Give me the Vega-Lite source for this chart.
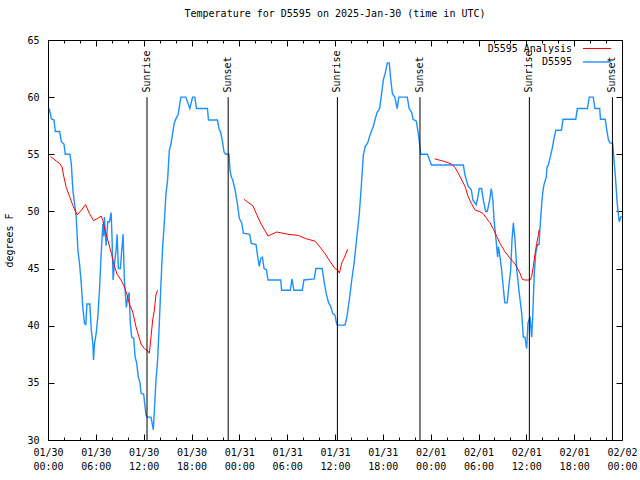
{
  "$schema": "https://vega.github.io/schema/vega-lite/v6.json",
  "width": 574,
  "height": 400,
  "autosize": {"type": "none"},
  "padding": {"left": 48, "top": 40, "right": 18, "bottom": 40},
  "background": "white",
  "config": {
    "view": {"stroke": null},
    "font": "DejaVu Sans Mono",
    "axis": {"labelFont": "DejaVu Sans Mono", "labelFontSize": 10, "labelColor": "black", "titleFont": "DejaVu Sans Mono", "titleFontSize": 10, "titleFontWeight": "normal", "titleColor": "black", "domainColor": "black", "tickColor": "black", "grid": false},
    "legend": {"labelFont": "DejaVu Sans Mono", "labelFontSize": 10, "labelColor": "black"}
  },
  "title": {"text": "Temperature for D5595 on 2025-Jan-30 (time in UTC)", "font": "DejaVu Sans Mono", "fontSize": 10, "fontWeight": "normal", "color": "black", "anchor": "middle", "offset": 16},
  "resolve": {"axis": {"x": "independent", "y": "independent"}},
  "datasets": {
    "temps": [
      {"series": "D5595", "seg": "b", "hour": 0.17, "temp": 59.0},
      {"series": "D5595", "seg": "b", "hour": 0.42, "temp": 58.1},
      {"series": "D5595", "seg": "b", "hour": 0.75, "temp": 58.0},
      {"series": "D5595", "seg": "b", "hour": 0.92, "temp": 57.0},
      {"series": "D5595", "seg": "b", "hour": 1.46, "temp": 57.0},
      {"series": "D5595", "seg": "b", "hour": 1.67, "temp": 56.1},
      {"series": "D5595", "seg": "b", "hour": 2.0, "temp": 55.9},
      {"series": "D5595", "seg": "b", "hour": 2.17, "temp": 55.0},
      {"series": "D5595", "seg": "b", "hour": 2.75, "temp": 55.0},
      {"series": "D5595", "seg": "b", "hour": 2.92, "temp": 54.2},
      {"series": "D5595", "seg": "b", "hour": 3.13, "temp": 51.8},
      {"series": "D5595", "seg": "b", "hour": 3.33, "temp": 50.7},
      {"series": "D5595", "seg": "b", "hour": 3.54, "temp": 49.5},
      {"series": "D5595", "seg": "b", "hour": 3.75, "temp": 46.6},
      {"series": "D5595", "seg": "b", "hour": 3.96, "temp": 45.4},
      {"series": "D5595", "seg": "b", "hour": 4.17, "temp": 43.7},
      {"series": "D5595", "seg": "b", "hour": 4.38, "temp": 41.5},
      {"series": "D5595", "seg": "b", "hour": 4.58, "temp": 40.2},
      {"series": "D5595", "seg": "b", "hour": 4.75, "temp": 40.1},
      {"series": "D5595", "seg": "b", "hour": 4.88, "temp": 41.9},
      {"series": "D5595", "seg": "b", "hour": 5.25, "temp": 41.9},
      {"series": "D5595", "seg": "b", "hour": 5.42, "temp": 39.7},
      {"series": "D5595", "seg": "b", "hour": 5.63, "temp": 38.4},
      {"series": "D5595", "seg": "b", "hour": 5.71, "temp": 37.0},
      {"series": "D5595", "seg": "b", "hour": 5.83, "temp": 38.4},
      {"series": "D5595", "seg": "b", "hour": 6.04, "temp": 39.3},
      {"series": "D5595", "seg": "b", "hour": 6.25, "temp": 40.8},
      {"series": "D5595", "seg": "b", "hour": 6.46, "temp": 43.1},
      {"series": "D5595", "seg": "b", "hour": 6.67, "temp": 46.3},
      {"series": "D5595", "seg": "b", "hour": 6.88, "temp": 48.9},
      {"series": "D5595", "seg": "b", "hour": 7.0, "temp": 47.8},
      {"series": "D5595", "seg": "b", "hour": 7.08, "temp": 49.5},
      {"series": "D5595", "seg": "b", "hour": 7.29, "temp": 47.0},
      {"series": "D5595", "seg": "b", "hour": 7.5, "temp": 49.1},
      {"series": "D5595", "seg": "b", "hour": 7.71, "temp": 49.1},
      {"series": "D5595", "seg": "b", "hour": 7.92, "temp": 49.9},
      {"series": "D5595", "seg": "b", "hour": 8.04, "temp": 47.5},
      {"series": "D5595", "seg": "b", "hour": 8.17, "temp": 44.0},
      {"series": "D5595", "seg": "b", "hour": 8.33, "temp": 45.4},
      {"series": "D5595", "seg": "b", "hour": 8.54, "temp": 46.6},
      {"series": "D5595", "seg": "b", "hour": 8.67, "temp": 48.0},
      {"series": "D5595", "seg": "b", "hour": 8.83, "temp": 45.0},
      {"series": "D5595", "seg": "b", "hour": 9.08, "temp": 45.0},
      {"series": "D5595", "seg": "b", "hour": 9.25, "temp": 46.6},
      {"series": "D5595", "seg": "b", "hour": 9.42, "temp": 48.0},
      {"series": "D5595", "seg": "b", "hour": 9.58, "temp": 44.0},
      {"series": "D5595", "seg": "b", "hour": 9.83, "temp": 41.6},
      {"series": "D5595", "seg": "b", "hour": 10.0, "temp": 42.5},
      {"series": "D5595", "seg": "b", "hour": 10.17, "temp": 42.9},
      {"series": "D5595", "seg": "b", "hour": 10.33, "temp": 40.2},
      {"series": "D5595", "seg": "b", "hour": 10.5, "temp": 39.0},
      {"series": "D5595", "seg": "b", "hour": 10.75, "temp": 38.9},
      {"series": "D5595", "seg": "b", "hour": 10.92, "temp": 37.3},
      {"series": "D5595", "seg": "b", "hour": 11.13, "temp": 36.7},
      {"series": "D5595", "seg": "b", "hour": 11.33, "temp": 35.5},
      {"series": "D5595", "seg": "b", "hour": 11.54, "temp": 35.0},
      {"series": "D5595", "seg": "b", "hour": 11.67, "temp": 34.1},
      {"series": "D5595", "seg": "b", "hour": 12.0, "temp": 34.0},
      {"series": "D5595", "seg": "b", "hour": 12.29, "temp": 32.2},
      {"series": "D5595", "seg": "b", "hour": 12.42, "temp": 32.0},
      {"series": "D5595", "seg": "b", "hour": 12.92, "temp": 32.0},
      {"series": "D5595", "seg": "b", "hour": 13.08, "temp": 31.4},
      {"series": "D5595", "seg": "b", "hour": 13.21, "temp": 30.9},
      {"series": "D5595", "seg": "b", "hour": 13.33, "temp": 32.4},
      {"series": "D5595", "seg": "b", "hour": 13.54, "temp": 35.2},
      {"series": "D5595", "seg": "b", "hour": 13.75, "temp": 37.0},
      {"series": "D5595", "seg": "b", "hour": 13.96, "temp": 40.2},
      {"series": "D5595", "seg": "b", "hour": 14.17, "temp": 43.7},
      {"series": "D5595", "seg": "b", "hour": 14.38, "temp": 46.9},
      {"series": "D5595", "seg": "b", "hour": 14.58, "temp": 48.9},
      {"series": "D5595", "seg": "b", "hour": 14.79, "temp": 51.5},
      {"series": "D5595", "seg": "b", "hour": 15.0, "temp": 52.7},
      {"series": "D5595", "seg": "b", "hour": 15.21, "temp": 55.3},
      {"series": "D5595", "seg": "b", "hour": 15.42, "temp": 55.9},
      {"series": "D5595", "seg": "b", "hour": 15.63, "temp": 56.8},
      {"series": "D5595", "seg": "b", "hour": 15.83, "temp": 57.7},
      {"series": "D5595", "seg": "b", "hour": 16.04, "temp": 58.1},
      {"series": "D5595", "seg": "b", "hour": 16.33, "temp": 58.5},
      {"series": "D5595", "seg": "b", "hour": 16.46, "temp": 59.1},
      {"series": "D5595", "seg": "b", "hour": 16.67, "temp": 60.0},
      {"series": "D5595", "seg": "b", "hour": 17.29, "temp": 60.0},
      {"series": "D5595", "seg": "b", "hour": 17.5, "temp": 59.6},
      {"series": "D5595", "seg": "b", "hour": 17.79, "temp": 59.0},
      {"series": "D5595", "seg": "b", "hour": 18.0, "temp": 59.6},
      {"series": "D5595", "seg": "b", "hour": 18.13, "temp": 60.0},
      {"series": "D5595", "seg": "b", "hour": 18.42, "temp": 60.0},
      {"series": "D5595", "seg": "b", "hour": 18.63, "temp": 59.0},
      {"series": "D5595", "seg": "b", "hour": 20.0, "temp": 59.0},
      {"series": "D5595", "seg": "b", "hour": 20.13, "temp": 58.0},
      {"series": "D5595", "seg": "b", "hour": 21.25, "temp": 58.0},
      {"series": "D5595", "seg": "b", "hour": 21.46, "temp": 57.2},
      {"series": "D5595", "seg": "b", "hour": 21.67, "temp": 56.9},
      {"series": "D5595", "seg": "b", "hour": 21.88, "temp": 56.1},
      {"series": "D5595", "seg": "b", "hour": 22.08, "temp": 55.2},
      {"series": "D5595", "seg": "b", "hour": 22.29, "temp": 55.0},
      {"series": "D5595", "seg": "b", "hour": 22.71, "temp": 55.0},
      {"series": "D5595", "seg": "b", "hour": 22.83, "temp": 53.6},
      {"series": "D5595", "seg": "b", "hour": 23.0, "temp": 53.0},
      {"series": "D5595", "seg": "b", "hour": 23.17, "temp": 52.75},
      {"series": "D5595", "seg": "b", "hour": 23.46, "temp": 51.9},
      {"series": "D5595", "seg": "b", "hour": 23.75, "temp": 50.7},
      {"series": "D5595", "seg": "b", "hour": 24.0, "temp": 49.4},
      {"series": "D5595", "seg": "b", "hour": 24.3, "temp": 49.0},
      {"series": "D5595", "seg": "b", "hour": 24.5, "temp": 48.1},
      {"series": "D5595", "seg": "b", "hour": 25.3, "temp": 48.0},
      {"series": "D5595", "seg": "b", "hour": 25.5, "temp": 47.2},
      {"series": "D5595", "seg": "b", "hour": 26.1, "temp": 47.1},
      {"series": "D5595", "seg": "b", "hour": 26.25, "temp": 46.3},
      {"series": "D5595", "seg": "b", "hour": 26.5, "temp": 45.2},
      {"series": "D5595", "seg": "b", "hour": 26.7, "temp": 45.9},
      {"series": "D5595", "seg": "b", "hour": 26.9, "temp": 46.0},
      {"series": "D5595", "seg": "b", "hour": 27.1, "temp": 45.0},
      {"series": "D5595", "seg": "b", "hour": 27.4, "temp": 44.9},
      {"series": "D5595", "seg": "b", "hour": 27.6, "temp": 44.0},
      {"series": "D5595", "seg": "b", "hour": 29.2, "temp": 44.0},
      {"series": "D5595", "seg": "b", "hour": 29.3, "temp": 43.1},
      {"series": "D5595", "seg": "b", "hour": 30.4, "temp": 43.1},
      {"series": "D5595", "seg": "b", "hour": 30.6, "temp": 44.1},
      {"series": "D5595", "seg": "b", "hour": 30.85, "temp": 43.1},
      {"series": "D5595", "seg": "b", "hour": 31.9, "temp": 43.1},
      {"series": "D5595", "seg": "b", "hour": 32.1, "temp": 44.0},
      {"series": "D5595", "seg": "b", "hour": 33.4, "temp": 44.1},
      {"series": "D5595", "seg": "b", "hour": 33.6, "temp": 45.0},
      {"series": "D5595", "seg": "b", "hour": 34.4, "temp": 45.0},
      {"series": "D5595", "seg": "b", "hour": 34.6, "temp": 44.0},
      {"series": "D5595", "seg": "b", "hour": 34.9, "temp": 42.8},
      {"series": "D5595", "seg": "b", "hour": 35.2, "temp": 42.0},
      {"series": "D5595", "seg": "b", "hour": 35.45, "temp": 41.7},
      {"series": "D5595", "seg": "b", "hour": 35.7, "temp": 41.1},
      {"series": "D5595", "seg": "b", "hour": 36.0, "temp": 40.9},
      {"series": "D5595", "seg": "b", "hour": 36.2, "temp": 40.2},
      {"series": "D5595", "seg": "b", "hour": 36.3, "temp": 40.05},
      {"series": "D5595", "seg": "b", "hour": 37.25, "temp": 40.05},
      {"series": "D5595", "seg": "b", "hour": 37.5, "temp": 40.8},
      {"series": "D5595", "seg": "b", "hour": 37.8, "temp": 42.3},
      {"series": "D5595", "seg": "b", "hour": 38.1, "temp": 44.0},
      {"series": "D5595", "seg": "b", "hour": 38.4, "temp": 45.5},
      {"series": "D5595", "seg": "b", "hour": 38.7, "temp": 47.5},
      {"series": "D5595", "seg": "b", "hour": 39.05, "temp": 49.8},
      {"series": "D5595", "seg": "b", "hour": 39.3, "temp": 52.2},
      {"series": "D5595", "seg": "b", "hour": 39.55, "temp": 54.9},
      {"series": "D5595", "seg": "b", "hour": 39.8, "temp": 55.7},
      {"series": "D5595", "seg": "b", "hour": 40.1, "temp": 56.0},
      {"series": "D5595", "seg": "b", "hour": 40.4, "temp": 56.7},
      {"series": "D5595", "seg": "b", "hour": 40.6, "temp": 57.1},
      {"series": "D5595", "seg": "b", "hour": 40.8, "temp": 57.4},
      {"series": "D5595", "seg": "b", "hour": 41.0, "temp": 58.0},
      {"series": "D5595", "seg": "b", "hour": 41.3, "temp": 58.7},
      {"series": "D5595", "seg": "b", "hour": 41.6, "temp": 59.0},
      {"series": "D5595", "seg": "b", "hour": 41.85, "temp": 60.3},
      {"series": "D5595", "seg": "b", "hour": 42.06, "temp": 61.5},
      {"series": "D5595", "seg": "b", "hour": 42.3, "temp": 62.1},
      {"series": "D5595", "seg": "b", "hour": 42.56, "temp": 63.0},
      {"series": "D5595", "seg": "b", "hour": 42.8, "temp": 63.0},
      {"series": "D5595", "seg": "b", "hour": 43.0, "temp": 61.5},
      {"series": "D5595", "seg": "b", "hour": 43.2, "temp": 60.3},
      {"series": "D5595", "seg": "b", "hour": 43.5, "temp": 60.0},
      {"series": "D5595", "seg": "b", "hour": 43.8, "temp": 59.0},
      {"series": "D5595", "seg": "b", "hour": 44.0, "temp": 60.0},
      {"series": "D5595", "seg": "b", "hour": 45.07, "temp": 60.0},
      {"series": "D5595", "seg": "b", "hour": 45.3, "temp": 59.0},
      {"series": "D5595", "seg": "b", "hour": 45.6, "temp": 58.7},
      {"series": "D5595", "seg": "b", "hour": 45.8, "temp": 58.06},
      {"series": "D5595", "seg": "b", "hour": 46.2, "temp": 57.9},
      {"series": "D5595", "seg": "b", "hour": 46.45, "temp": 56.8},
      {"series": "D5595", "seg": "b", "hour": 46.6, "temp": 56.0},
      {"series": "D5595", "seg": "b", "hour": 46.75, "temp": 55.0},
      {"series": "D5595", "seg": "b", "hour": 47.6, "temp": 55.0},
      {"series": "D5595", "seg": "b", "hour": 47.8, "temp": 54.6},
      {"series": "D5595", "seg": "b", "hour": 48.1, "temp": 54.06},
      {"series": "D5595", "seg": "b", "hour": 52.1, "temp": 54.06},
      {"series": "D5595", "seg": "b", "hour": 52.3, "temp": 53.2},
      {"series": "D5595", "seg": "b", "hour": 52.7, "temp": 52.2},
      {"series": "D5595", "seg": "b", "hour": 53.1, "temp": 51.9},
      {"series": "D5595", "seg": "b", "hour": 53.3, "temp": 51.0},
      {"series": "D5595", "seg": "b", "hour": 53.7, "temp": 50.6},
      {"series": "D5595", "seg": "b", "hour": 53.85, "temp": 51.0},
      {"series": "D5595", "seg": "b", "hour": 54.1, "temp": 52.0},
      {"series": "D5595", "seg": "b", "hour": 54.4, "temp": 52.0},
      {"series": "D5595", "seg": "b", "hour": 54.6, "temp": 51.0},
      {"series": "D5595", "seg": "b", "hour": 54.9, "temp": 50.0},
      {"series": "D5595", "seg": "b", "hour": 55.1, "temp": 50.0},
      {"series": "D5595", "seg": "b", "hour": 55.4, "temp": 51.0},
      {"series": "D5595", "seg": "b", "hour": 55.6, "temp": 52.0},
      {"series": "D5595", "seg": "b", "hour": 55.8, "temp": 51.0},
      {"series": "D5595", "seg": "b", "hour": 55.95, "temp": 49.25},
      {"series": "D5595", "seg": "b", "hour": 56.2, "temp": 47.5},
      {"series": "D5595", "seg": "b", "hour": 56.4, "temp": 46.0},
      {"series": "D5595", "seg": "b", "hour": 56.5, "temp": 46.9},
      {"series": "D5595", "seg": "b", "hour": 56.7, "temp": 46.0},
      {"series": "D5595", "seg": "b", "hour": 56.9, "temp": 44.9},
      {"series": "D5595", "seg": "b", "hour": 57.1, "temp": 43.4},
      {"series": "D5595", "seg": "b", "hour": 57.3, "temp": 42.0},
      {"series": "D5595", "seg": "b", "hour": 57.6, "temp": 42.0},
      {"series": "D5595", "seg": "b", "hour": 57.8, "temp": 43.4},
      {"series": "D5595", "seg": "b", "hour": 58.04, "temp": 44.9},
      {"series": "D5595", "seg": "b", "hour": 58.2, "temp": 47.5},
      {"series": "D5595", "seg": "b", "hour": 58.37, "temp": 49.0},
      {"series": "D5595", "seg": "b", "hour": 58.58, "temp": 47.5},
      {"series": "D5595", "seg": "b", "hour": 58.8, "temp": 44.9},
      {"series": "D5595", "seg": "b", "hour": 59.12, "temp": 42.8},
      {"series": "D5595", "seg": "b", "hour": 59.42, "temp": 41.1},
      {"series": "D5595", "seg": "b", "hour": 59.62, "temp": 39.0},
      {"series": "D5595", "seg": "b", "hour": 59.83, "temp": 39.0},
      {"series": "D5595", "seg": "b", "hour": 60.04, "temp": 38.0},
      {"series": "D5595", "seg": "b", "hour": 60.2, "temp": 40.2},
      {"series": "D5595", "seg": "b", "hour": 60.46, "temp": 40.8},
      {"series": "D5595", "seg": "b", "hour": 60.67, "temp": 39.0},
      {"series": "D5595", "seg": "b", "hour": 60.8, "temp": 40.8},
      {"series": "D5595", "seg": "b", "hour": 61.0, "temp": 44.6},
      {"series": "D5595", "seg": "b", "hour": 61.17, "temp": 46.3},
      {"series": "D5595", "seg": "b", "hour": 61.4, "temp": 47.1},
      {"series": "D5595", "seg": "b", "hour": 61.6, "temp": 47.1},
      {"series": "D5595", "seg": "b", "hour": 61.7, "temp": 48.4},
      {"series": "D5595", "seg": "b", "hour": 61.9, "temp": 50.4},
      {"series": "D5595", "seg": "b", "hour": 62.05, "temp": 51.6},
      {"series": "D5595", "seg": "b", "hour": 62.2, "temp": 52.3},
      {"series": "D5595", "seg": "b", "hour": 62.5, "temp": 53.0},
      {"series": "D5595", "seg": "b", "hour": 62.6, "temp": 53.9},
      {"series": "D5595", "seg": "b", "hour": 62.76, "temp": 54.06},
      {"series": "D5595", "seg": "b", "hour": 63.05, "temp": 54.9},
      {"series": "D5595", "seg": "b", "hour": 63.3, "temp": 55.7},
      {"series": "D5595", "seg": "b", "hour": 63.5, "temp": 56.5},
      {"series": "D5595", "seg": "b", "hour": 63.7, "temp": 57.1},
      {"series": "D5595", "seg": "b", "hour": 64.4, "temp": 57.1},
      {"series": "D5595", "seg": "b", "hour": 64.6, "temp": 58.06},
      {"series": "D5595", "seg": "b", "hour": 66.2, "temp": 58.06},
      {"series": "D5595", "seg": "b", "hour": 66.4, "temp": 59.0},
      {"series": "D5595", "seg": "b", "hour": 67.65, "temp": 59.0},
      {"series": "D5595", "seg": "b", "hour": 67.9, "temp": 60.0},
      {"series": "D5595", "seg": "b", "hour": 68.4, "temp": 60.0},
      {"series": "D5595", "seg": "b", "hour": 68.6, "temp": 59.0},
      {"series": "D5595", "seg": "b", "hour": 69.2, "temp": 59.0},
      {"series": "D5595", "seg": "b", "hour": 69.3, "temp": 58.06},
      {"series": "D5595", "seg": "b", "hour": 69.9, "temp": 58.06},
      {"series": "D5595", "seg": "b", "hour": 70.1, "temp": 57.1},
      {"series": "D5595", "seg": "b", "hour": 70.3, "temp": 56.25},
      {"series": "D5595", "seg": "b", "hour": 70.5, "temp": 56.0},
      {"series": "D5595", "seg": "b", "hour": 70.83, "temp": 55.96},
      {"series": "D5595", "seg": "b", "hour": 71.0, "temp": 54.5},
      {"series": "D5595", "seg": "b", "hour": 71.2, "temp": 52.75},
      {"series": "D5595", "seg": "b", "hour": 71.4, "temp": 50.7},
      {"series": "D5595", "seg": "b", "hour": 71.5, "temp": 50.0},
      {"series": "D5595", "seg": "b", "hour": 71.66, "temp": 49.1},
      {"series": "D5595", "seg": "b", "hour": 71.9, "temp": 49.6},
      {"series": "D5595 Analysis", "seg": "r1", "hour": 0.3, "temp": 54.8},
      {"series": "D5595 Analysis", "seg": "r1", "hour": 0.71, "temp": 54.6},
      {"series": "D5595 Analysis", "seg": "r1", "hour": 1.04, "temp": 54.4},
      {"series": "D5595 Analysis", "seg": "r1", "hour": 1.46, "temp": 54.2},
      {"series": "D5595 Analysis", "seg": "r1", "hour": 1.75, "temp": 53.9},
      {"series": "D5595 Analysis", "seg": "r1", "hour": 2.0, "temp": 53.0},
      {"series": "D5595 Analysis", "seg": "r1", "hour": 2.29, "temp": 52.1},
      {"series": "D5595 Analysis", "seg": "r1", "hour": 2.71, "temp": 51.3},
      {"series": "D5595 Analysis", "seg": "r1", "hour": 3.13, "temp": 50.5},
      {"series": "D5595 Analysis", "seg": "r1", "hour": 3.67, "temp": 49.7},
      {"series": "D5595 Analysis", "seg": "r1", "hour": 4.17, "temp": 50.1},
      {"series": "D5595 Analysis", "seg": "r1", "hour": 4.71, "temp": 50.6},
      {"series": "D5595 Analysis", "seg": "r1", "hour": 5.21, "temp": 49.8},
      {"series": "D5595 Analysis", "seg": "r1", "hour": 5.71, "temp": 49.2},
      {"series": "D5595 Analysis", "seg": "r1", "hour": 6.25, "temp": 49.4},
      {"series": "D5595 Analysis", "seg": "r1", "hour": 6.67, "temp": 49.6},
      {"series": "D5595 Analysis", "seg": "r1", "hour": 6.88, "temp": 49.2},
      {"series": "D5595 Analysis", "seg": "r1", "hour": 7.17, "temp": 48.3},
      {"series": "D5595 Analysis", "seg": "r1", "hour": 7.5, "temp": 47.5},
      {"series": "D5595 Analysis", "seg": "r1", "hour": 8.0, "temp": 46.2},
      {"series": "D5595 Analysis", "seg": "r1", "hour": 8.25, "temp": 45.4},
      {"series": "D5595 Analysis", "seg": "r1", "hour": 8.67, "temp": 44.5},
      {"series": "D5595 Analysis", "seg": "r1", "hour": 9.17, "temp": 44.0},
      {"series": "D5595 Analysis", "seg": "r1", "hour": 9.58, "temp": 43.4},
      {"series": "D5595 Analysis", "seg": "r1", "hour": 9.92, "temp": 42.7},
      {"series": "D5595 Analysis", "seg": "r1", "hour": 10.21, "temp": 41.9},
      {"series": "D5595 Analysis", "seg": "r1", "hour": 10.63, "temp": 41.2},
      {"series": "D5595 Analysis", "seg": "r1", "hour": 11.04, "temp": 39.9},
      {"series": "D5595 Analysis", "seg": "r1", "hour": 11.33, "temp": 39.2},
      {"series": "D5595 Analysis", "seg": "r1", "hour": 11.67, "temp": 38.4},
      {"series": "D5595 Analysis", "seg": "r1", "hour": 12.08, "temp": 38.0},
      {"series": "D5595 Analysis", "seg": "r1", "hour": 12.5, "temp": 37.8},
      {"series": "D5595 Analysis", "seg": "r1", "hour": 12.71, "temp": 37.6},
      {"series": "D5595 Analysis", "seg": "r1", "hour": 12.92, "temp": 39.0},
      {"series": "D5595 Analysis", "seg": "r1", "hour": 13.13, "temp": 40.5},
      {"series": "D5595 Analysis", "seg": "r1", "hour": 13.33, "temp": 41.3},
      {"series": "D5595 Analysis", "seg": "r1", "hour": 13.54, "temp": 42.7},
      {"series": "D5595 Analysis", "seg": "r1", "hour": 13.75, "temp": 43.1},
      {"series": "D5595 Analysis", "seg": "r2", "hour": 24.6, "temp": 51.06},
      {"series": "D5595 Analysis", "seg": "r2", "hour": 25.1, "temp": 50.8},
      {"series": "D5595 Analysis", "seg": "r2", "hour": 25.7, "temp": 50.5},
      {"series": "D5595 Analysis", "seg": "r2", "hour": 26.2, "temp": 49.7},
      {"series": "D5595 Analysis", "seg": "r2", "hour": 26.8, "temp": 48.8},
      {"series": "D5595 Analysis", "seg": "r2", "hour": 27.6, "temp": 47.85},
      {"series": "D5595 Analysis", "seg": "r2", "hour": 28.06, "temp": 48.0},
      {"series": "D5595 Analysis", "seg": "r2", "hour": 28.7, "temp": 48.2},
      {"series": "D5595 Analysis", "seg": "r2", "hour": 30.1, "temp": 48.0},
      {"series": "D5595 Analysis", "seg": "r2", "hour": 31.4, "temp": 47.9},
      {"series": "D5595 Analysis", "seg": "r2", "hour": 32.4, "temp": 47.6},
      {"series": "D5595 Analysis", "seg": "r2", "hour": 33.5, "temp": 47.4},
      {"series": "D5595 Analysis", "seg": "r2", "hour": 34.1, "temp": 46.9},
      {"series": "D5595 Analysis", "seg": "r2", "hour": 34.75, "temp": 46.3},
      {"series": "D5595 Analysis", "seg": "r2", "hour": 35.4, "temp": 45.6},
      {"series": "D5595 Analysis", "seg": "r2", "hour": 36.0, "temp": 45.0},
      {"series": "D5595 Analysis", "seg": "r2", "hour": 36.3, "temp": 44.9},
      {"series": "D5595 Analysis", "seg": "r2", "hour": 36.55, "temp": 44.6},
      {"series": "D5595 Analysis", "seg": "r2", "hour": 36.85, "temp": 45.5},
      {"series": "D5595 Analysis", "seg": "r2", "hour": 37.2, "temp": 46.0},
      {"series": "D5595 Analysis", "seg": "r2", "hour": 37.6, "temp": 46.7},
      {"series": "D5595 Analysis", "seg": "r3", "hour": 48.5, "temp": 54.6},
      {"series": "D5595 Analysis", "seg": "r3", "hour": 49.6, "temp": 54.4},
      {"series": "D5595 Analysis", "seg": "r3", "hour": 50.6, "temp": 54.15},
      {"series": "D5595 Analysis", "seg": "r3", "hour": 51.05, "temp": 53.86},
      {"series": "D5595 Analysis", "seg": "r3", "hour": 51.5, "temp": 53.3},
      {"series": "D5595 Analysis", "seg": "r3", "hour": 51.9, "temp": 52.75},
      {"series": "D5595 Analysis", "seg": "r3", "hour": 52.3, "temp": 52.2},
      {"series": "D5595 Analysis", "seg": "r3", "hour": 52.7, "temp": 51.3},
      {"series": "D5595 Analysis", "seg": "r3", "hour": 53.1, "temp": 50.7},
      {"series": "D5595 Analysis", "seg": "r3", "hour": 53.6, "temp": 50.1},
      {"series": "D5595 Analysis", "seg": "r3", "hour": 54.1, "temp": 50.0},
      {"series": "D5595 Analysis", "seg": "r3", "hour": 54.6, "temp": 49.8},
      {"series": "D5595 Analysis", "seg": "r3", "hour": 55.0, "temp": 49.4},
      {"series": "D5595 Analysis", "seg": "r3", "hour": 55.45, "temp": 49.0},
      {"series": "D5595 Analysis", "seg": "r3", "hour": 55.9, "temp": 48.4},
      {"series": "D5595 Analysis", "seg": "r3", "hour": 56.3, "temp": 47.8},
      {"series": "D5595 Analysis", "seg": "r3", "hour": 56.7, "temp": 47.2},
      {"series": "D5595 Analysis", "seg": "r3", "hour": 57.3, "temp": 46.5},
      {"series": "D5595 Analysis", "seg": "r3", "hour": 57.95, "temp": 45.9},
      {"series": "D5595 Analysis", "seg": "r3", "hour": 58.6, "temp": 45.4},
      {"series": "D5595 Analysis", "seg": "r3", "hour": 59.2, "temp": 44.6},
      {"series": "D5595 Analysis", "seg": "r3", "hour": 59.5, "temp": 44.06},
      {"series": "D5595 Analysis", "seg": "r3", "hour": 59.8, "temp": 44.0},
      {"series": "D5595 Analysis", "seg": "r3", "hour": 60.46, "temp": 44.0},
      {"series": "D5595 Analysis", "seg": "r3", "hour": 60.67, "temp": 44.3},
      {"series": "D5595 Analysis", "seg": "r3", "hour": 60.88, "temp": 45.2},
      {"series": "D5595 Analysis", "seg": "r3", "hour": 61.09, "temp": 46.3},
      {"series": "D5595 Analysis", "seg": "r3", "hour": 61.3, "temp": 47.2},
      {"series": "D5595 Analysis", "seg": "r3", "hour": 61.5, "temp": 47.9},
      {"series": "D5595 Analysis", "seg": "r3", "hour": 61.6, "temp": 48.4}
    ],
    "sun": [
      {"event": "Sunrise", "hour": 12.42},
      {"event": "Sunset", "hour": 22.6},
      {"event": "Sunrise", "hour": 36.3},
      {"event": "Sunset", "hour": 46.66},
      {"event": "Sunrise", "hour": 60.38},
      {"event": "Sunset", "hour": 70.8}
    ]
  },
  "layer": [
    {
      "data": {"name": "temps"},
      "mark": {"type": "line", "interpolate": "linear"},
      "encoding": {
        "x": {"field": "hour", "type": "quantitative", "scale": {"domain": [0, 72], "nice": false, "zero": false},
          "axis": {"orient": "bottom", "values": [0, 6, 12, 18, 24, 30, 36, 42, 48, 54, 60, 66, 72], "ticks": false, "domain": false, "title": null, "labelPadding": 7, "labelLineHeight": 14, "labelFlush": false, "labelBaseline": "top",
            "labelExpr": "[datum.value < 24 ? '01/30' : datum.value < 48 ? '01/31' : datum.value < 72 ? '02/01' : '02/02', (datum.value % 24 < 10 ? '0' : '') + (datum.value % 24) + ':00']"}},
        "y": {"field": "temp", "type": "quantitative", "scale": {"domain": [30, 65], "nice": false, "zero": false},
          "axis": {"orient": "left", "values": [30, 35, 40, 45, 50, 55, 60, 65], "ticks": false, "domain": false, "title": "degrees F", "titlePadding": 12, "labelPadding": 9, "labelFlush": false}},
        "color": {"field": "series", "type": "nominal",
          "scale": {"domain": ["D5595 Analysis", "D5595"], "range": ["#ff0000", "#1e90ff"]},
          "legend": {"title": null, "orient": "none", "legendX": 541, "legendY": 1, "padding": 0, "symbolType": "M-2,0H2", "symbolSize": 196, "symbolStrokeWidth": 1.2, "labelAlign": "right", "labelOffset": -33, "rowPadding": 0, "labelFont": "DejaVu Sans Mono", "labelFontSize": 10}},
        "strokeWidth": {"field": "series", "type": "nominal", "scale": {"domain": ["D5595 Analysis", "D5595"], "range": [1, 1.4]}, "legend": null},
        "detail": {"field": "seg"}
      }
    },
    {
      "data": {"name": "sun"},
      "mark": {"type": "rule", "color": "black", "strokeWidth": 1},
      "encoding": {
        "x": {"field": "hour", "type": "quantitative",
          "axis": {"orient": "bottom", "values": [0, 2, 4, 6, 8, 10, 12, 14, 16, 18, 20, 22, 24, 26, 28, 30, 32, 34, 36, 38, 40, 42, 44, 46, 48, 50, 52, 54, 56, 58, 60, 62, 64, 66, 68, 70, 72], "labels": false, "title": null, "domain": true,
            "tickSize": {"condition": {"test": "datum.value % 6 == 0", "value": -6}, "value": -3}}},
        "y": {"datum": 30, "type": "quantitative",
          "axis": {"orient": "left", "values": [30, 35, 40, 45, 50, 55, 60, 65], "labels": false, "title": null, "domain": true, "tickSize": -6}},
        "y2": {"datum": 60}
      }
    },
    {
      "data": {"name": "sun"},
      "mark": {"type": "text", "angle": 270, "align": "left", "baseline": "middle", "font": "DejaVu Sans Mono", "fontSize": 10, "color": "black"},
      "encoding": {
        "x": {"field": "hour", "type": "quantitative",
          "axis": {"orient": "top", "values": [0, 2, 4, 6, 8, 10, 12, 14, 16, 18, 20, 22, 24, 26, 28, 30, 32, 34, 36, 38, 40, 42, 44, 46, 48, 50, 52, 54, 56, 58, 60, 62, 64, 66, 68, 70, 72], "labels": false, "title": null, "domain": true,
            "tickSize": {"condition": {"test": "datum.value % 6 == 0", "value": -6}, "value": -3}}},
        "y": {"datum": 60.4, "type": "quantitative",
          "axis": {"orient": "right", "values": [30, 35, 40, 45, 50, 55, 60, 65], "labels": false, "title": null, "domain": true, "tickSize": -6}},
        "text": {"field": "event"}
      }
    }
  ]
}
